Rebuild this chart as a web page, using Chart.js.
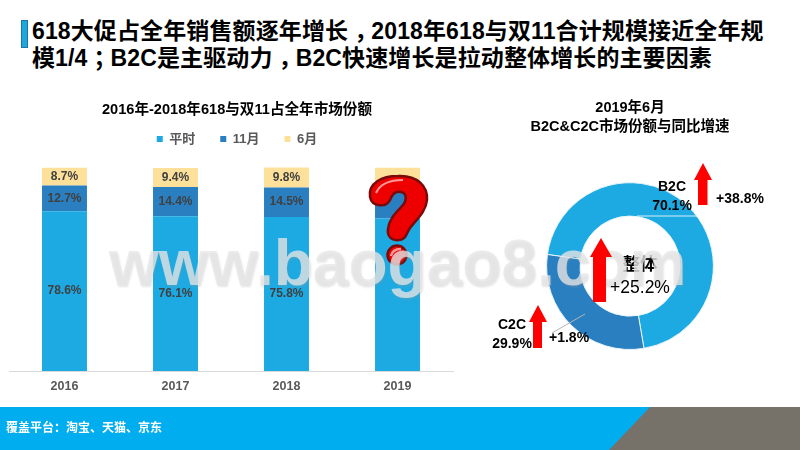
<!DOCTYPE html>
<html>
<head>
<meta charset="utf-8">
<script src="https://cdn.jsdelivr.net/npm/chart.js@4"></script>
<style>
html, body { margin: 0; padding: 0; background: #fff; }
body { width: 800px; height: 450px; position: relative; overflow: hidden; font-family: "Liberation Sans", "Noto Sans CJK SC", sans-serif; }
.abs { position: absolute; }
#headline { left: 32px; top: 18px; width: 760px; font-size: 23px; line-height: 27px; font-weight: bold; color: #000; letter-spacing: 0.12px; white-space: nowrap; }
#headline span { position: relative; left: 6px; }
#tick { left: 21px; top: 20px; width: 5px; height: 26px; background: #1da7dc; border: 1px solid #1b75a8; }
#barBox { left: 0; top: 95px; width: 474px; height: 307px; }
#ringBox { left: 470px; top: 95px; width: 320px; height: 255px; }
#footer { left: 0; top: 407px; width: 800px; height: 43px; background: #00aeef; }
#footText { left: 6px; top: 418px; font-size: 12px; font-weight: bold; color: #fff; }
.note { font-size: 14px; font-weight: bold; color: #000; text-align: center; line-height: 19px; white-space: nowrap; }
.big { font-size: 17.5px; line-height: 23px; }
#mark { left: 109px; top: 231px; font-size: 64px; line-height: 64px; font-weight: bold; color: rgba(230,230,230,0.77); text-shadow: 1px 2px 2px rgba(150,150,150,0.25); white-space: nowrap; }
</style>
</head>
<body>
<div id="tick" class="abs"></div>
<div id="headline" class="abs">618大促占全年销售额逐年增长<span>，</span>2018年618与双11合计规模接近全年规<br>模1/4<span>；</span>B2C是主驱动力<span>，</span>B2C快速增长是拉动整体增长的主要因素</div>
<div id="barBox" class="abs"><canvas id="barChart"></canvas></div>
<div id="ringBox" class="abs"><canvas id="ringChart"></canvas></div>
<div id="footer" class="abs"></div>
<svg class="abs" style="left:0;top:0" width="800" height="450" viewBox="0 0 800 450">
  <polygon points="650,407 800,407 800,450 609,450" fill="#767169"/>
  <!-- leader lines -->
  <line x1="637" y1="216" x2="697" y2="216" stroke="#d8eef8" stroke-width="1"/>
  <line x1="585" y1="314" x2="552" y2="333" stroke="#b5b5b5" stroke-width="1"/>
  <!-- arrows -->
  <polygon points="703,163 712,180 707.5,180 707.5,205 698,205 698,180 694,180" fill="#ff0000"/>
  <polygon points="538,305 547,322 542,322 542,348 533,348 533,322 529,322" fill="#ff0000"/>
  <!-- question mark -->
  <path d="M370 197 C368 183 382 176 398 176 C417 175 428 186 427 200 C426 212 416 220 410 228 C406 234 406 240 399 240 C391 241 387 236 388 229 C389 218 398 211 403 205 C407 200 407 193 401 192 C394 191 392 195 390 200 C386 208 372 207 370 197 Z" fill="#ee0000" stroke="#7a0a0a" stroke-width="2.5"/>
  <path d="M376 193 C380 184 390 180 403 180" fill="none" stroke="#ff9a9a" stroke-width="2"/>
  <circle cx="397" cy="255" r="9.5" fill="#ee0000" stroke="#7a0a0a" stroke-width="2.5"/>
  <path d="M391 256 C392 251 396 249 401 249" fill="none" stroke="#ff9a9a" stroke-width="2.5"/>
</svg>
<div id="footText" class="abs">覆盖平台：淘宝、天猫、京东</div>
<div class="abs note" style="left:647px;top:177px;width:50px">B2C<br>70.1%</div>
<div class="abs note" style="left:710px;top:189px;width:60px">+38.8%</div>
<div class="abs note" style="left:487px;top:315px;width:50px">C2C<br>29.9%</div>
<div class="abs note" style="left:549px;top:328px;width:40px">+1.8%</div>
<div class="abs note big" style="left:605px;top:253px;width:70px">整体</div>
<div id="mark" class="abs">www.baogao8.com</div>
<svg class="abs" style="left:0;top:0" width="800" height="450" viewBox="0 0 800 450">
  <polygon points="601,238 612,257 606,257 606,302 593,302 593,257 590,257" fill="#ff0000"/>
</svg>
<div class="abs note big" style="left:605px;top:276px;width:70px;font-weight:normal">+25.2%</div>

<script>
const years = ["2016", "2017", "2018", "2019"];
const normalShare = [78.6, 76.1, 75.8, 75.0];
const novemberShare = [12.7, 14.4, 14.5, 15.0];
const juneShare = [8.7, 9.4, 9.8, 10.0];
const labelledYears = ["2016", "2017", "2018"];

const ringLabels = ["B2C", "C2C"];
const ringShare = [70.1, 29.9];

const blue = "#1daae2";
const darkBlue = "#2a7fc1";
const sand = "#fde19a";
const fontFamily = "'Liberation Sans', 'Noto Sans CJK SC'";

const stackLabels = {
    id: "stackLabels",
    afterDatasetsDraw(chart) {
        const ctx = chart.ctx;
        ctx.save();
        ctx.font = "bold 12px 'Liberation Sans'";
        ctx.fillStyle = "#404040";
        ctx.textAlign = "center";
        ctx.textBaseline = "middle";
        chart.data.datasets.forEach((ds, i) => {
            chart.getDatasetMeta(i).data.forEach((bar, j) => {
                if (!labelledYears.includes(years[j])) return;
                ctx.fillText(ds.data[j].toFixed(1) + "%", bar.x, bar.y + (bar.base - bar.y) / 2);
            });
        });
        ctx.restore();
    }
};

// invisible side axis, only holds the plot in from the canvas edge
function spacerAxis(position, width) {
    return {
        position: position,
        grid: { display: false },
        border: { display: false },
        ticks: { display: false },
        afterFit: (scale) => { scale.width = width; }
    };
}

new Chart(document.getElementById("barChart"), {
    type: "bar",
    data: {
        labels: years,
        datasets: [
            { label: "平时", data: normalShare, backgroundColor: blue },
            { label: "11月", data: novemberShare, backgroundColor: darkBlue },
            { label: "6月", data: juneShare, backgroundColor: sand }
        ]
    },
    options: {
        responsive: true,
        maintainAspectRatio: false,
        animation: false,
        barPercentage: 0.405,
        categoryPercentage: 1,
        layout: { padding: 0 },
        scales: {
            x: {
                stacked: true,
                grid: { display: false, drawTicks: false },
                border: { color: "#d9d9d9", width: 1 },
                ticks: { color: "#595959", font: { size: 12.5, weight: "bold", family: fontFamily }, padding: 8 }
            },
            y: { ...spacerAxis("left", 9), stacked: true, min: 0, max: 106 },
            yRight: spacerAxis("right", 21)
        },
        plugins: {
            title: {
                display: true,
                text: "2016年-2018年618与双11占全年市场份额",
                color: "#000",
                font: { size: 14.6, weight: "bold", family: fontFamily },
                padding: { top: 6, bottom: -11 }
            },
            legend: {
                position: "top",
                labels: { boxWidth: 6, boxHeight: 6, padding: 25, color: "#595959", font: { size: 13, weight: "bold", family: fontFamily } }
            },
            tooltip: { enabled: false }
        }
    },
    plugins: [stackLabels]
});

new Chart(document.getElementById("ringChart"), {
    type: "doughnut",
    data: {
        labels: ringLabels,
        datasets: [{ data: ringShare, backgroundColor: [blue, darkBlue], borderColor: "#e8f4fa", borderWidth: 1 }]
    },
    options: {
        responsive: true,
        maintainAspectRatio: false,
        animation: false,
        rotation: 278,
        cutout: "60%",
        layout: { padding: 0 },
        plugins: {
            legend: { display: false },
            tooltip: { enabled: false },
            title: {
                display: true,
                text: ["2019年6月", "B2C&C2C市场份额与同比增速"],
                color: "#000",
                font: { size: 14.5, weight: "bold", family: fontFamily, lineHeight: 1.3 },
                padding: { top: 3.5, bottom: 46 }
            }
        }
    }
});
</script>
</body>
</html>
